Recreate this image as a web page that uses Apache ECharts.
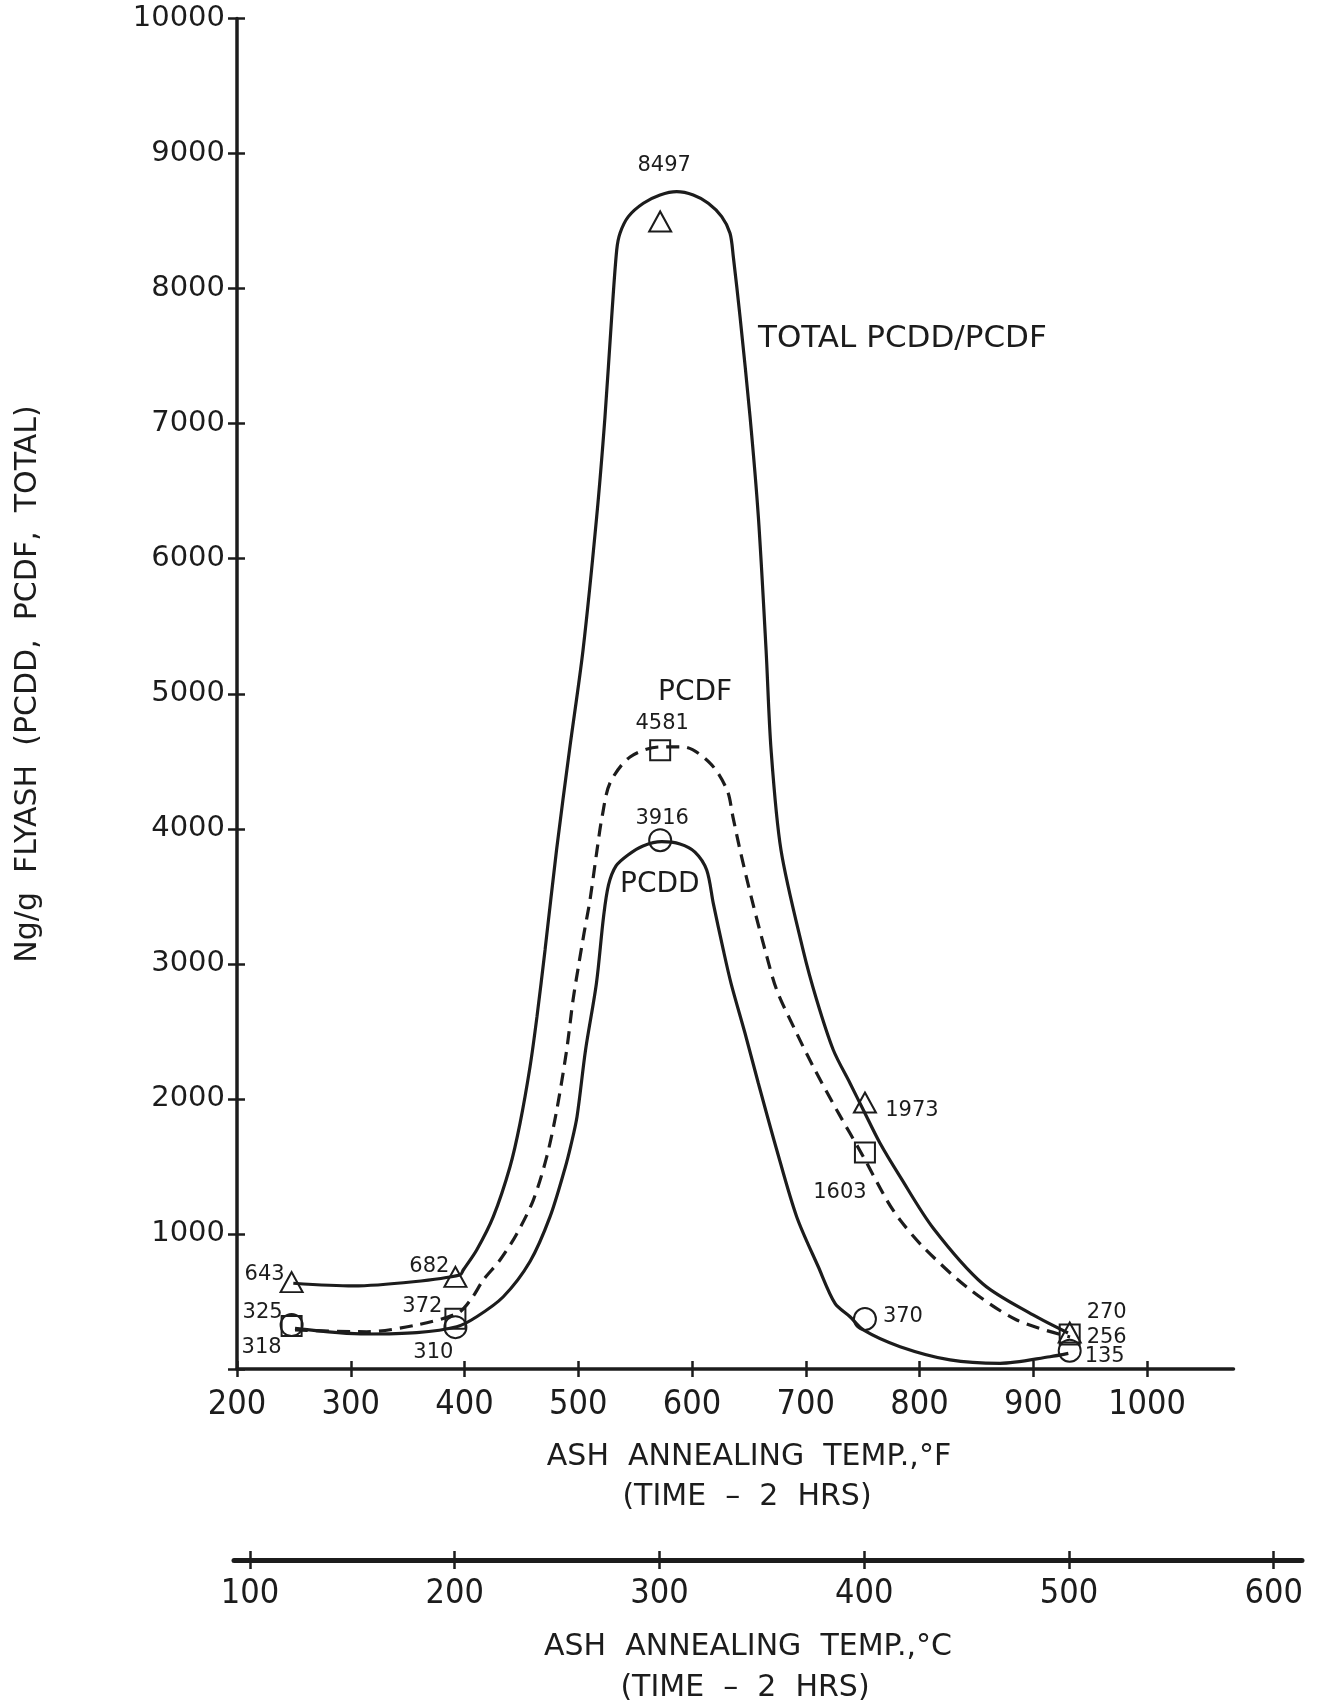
<!DOCTYPE html>
<html><head><meta charset="utf-8">
<script src="https://cdn.jsdelivr.net/npm/echarts@6/dist/echarts.min.js"></script>
<style>html,body{margin:0;padding:0;background:#fff}#c{width:1322px;height:1708px}</style>
</head><body><div id="c"></div>
<script>
// Measured points (temperature in °F, value in ng/g)
const tempF = [248, 392, 572, 752, 932];
const totalVals = [643, 682, 8497, 1973, 270];
const pcdfVals = [318, 372, 4581, 1603, 256];
const pcddVals = [325, 310, 3916, 370, 135];

// Tick labels
const fTicks = [200, 300, 400, 500, 600, 700, 800, 900, 1000];
const cTicks = [100, 200, 300, 400, 500, 600];

// Hand-drawn curves [°F, ng/g]
const totalCurve = [[249.5,635],[302.2,615],[355,646],[396,696],[398.9,733],[410.7,881],[425.3,1128],[440,1498],[448.8,1819],[457.6,2238],[463.7,2609],[470.8,3103],[480.9,3843],[492.3,4584],[504.2,5324],[516.2,6311],[523.5,7052],[529.4,7792],[533.8,8286],[536.7,8410],[544,8533],[557.2,8632],[571.9,8693],[586.5,8718],[601.1,8693],[614.3,8632],[626.1,8533],[633.4,8410],[636.3,8236],[642.2,7792],[651,7052],[658.3,6311],[665.1,5324],[669.5,4584],[678.2,3843],[697.6,3103],[709.6,2732],[724.2,2362],[738.9,2116],[750.6,1918],[765.3,1671],[782.9,1424],[811.9,1044],[855.8,629],[899.8,400],[930.5,267]];
const pcdfCurve = [[251,289],[314,276],[358,326],[394.3,415],[406.6,526],[416.5,659],[431.2,807],[445.9,1000],[460.5,1251],[472.3,1572],[481.1,1918],[489.8,2362],[495.4,2732],[500.2,2984],[505.1,3228],[510.3,3473],[516.5,3843],[520.9,4087],[527.9,4339],[545.5,4532],[571.9,4606],[592.1,4606],[615.8,4487],[630.8,4287],[636,4087],[642.2,3843],[652.7,3473],[664.2,3103],[674.5,2806],[692,2486],[706.6,2238],[727.2,1918],[750.6,1572],[771.2,1251],[782.9,1103],[803.3,903],[841.5,607],[885.4,363],[932.3,237]];
const pcddCurve = [[251,301],[314,259],[358,269],[393.1,313],[410.7,387],[434.1,535],[457.6,796],[475.2,1128],[488.4,1488],[493.6,1659],[498.9,1868],[506.4,2362],[516,2858],[522.2,3347],[526.6,3584],[533.2,3725],[543.7,3806],[556.9,3873],[573.4,3905],[589.4,3888],[602.6,3828],[612.9,3695],[618.7,3448],[627.5,3103],[634.3,2856],[646.6,2486],[658.3,2116],[674.5,1622],[692,1128],[711,757],[725.7,486],[738.9,387],[750.6,289],[782.9,165],[826.8,67],[870.8,42],[914.7,91],[930.8,116]];

// Label placement offsets (layout only)
const totalLabelOff = [[-27,-8],[-26,-10],[4,-56],[47,8],[37,-20]];
const pcdfLabelOff = [[-30,21],[-33,-12],[2,-27],[-25,40],[37,3]];
const pcddLabelOff = [[-29,-13],[-22,25],[2,-22],[38,-2],[35,6]];

const INK = '#1c1c1c';
const chart = echarts.init(document.getElementById('c'), null, {renderer: 'canvas'});

function pts(vals, offs) {
  return tempF.map((t, i) => ({
    value: [t, vals[i]],
    label: {offset: offs[i]}
  }));
}
function markerSeries(name, symbol, size, vals, offs) {
  return {
    name, type: 'scatter', xAxisIndex: 0, yAxisIndex: 0, z: 5,
    symbol, symbolSize: size,
    itemStyle: {color: 'rgba(0,0,0,0)', borderColor: INK, borderWidth: 2, opacity: 1},
    label: {show: true, position: 'inside', align: 'center', verticalAlign: 'middle',
      color: INK, fontFamily: 'DejaVu Sans', fontSize: 21,
      formatter: p => String(p.value[1])},
    emphasis: {disabled: true},
    data: pts(vals, offs)
  };
}
function curveSeries(name, data, dashed) {
  return {
    name, type: 'line', xAxisIndex: 0, yAxisIndex: 0, z: 3,
    data, smooth: 0.3, showSymbol: false, symbol: 'none',
    lineStyle: {color: INK, width: 3.2, type: dashed ? [13, 8] : 'solid', cap: 'butt'},
    emphasis: {disabled: true}
  };
}

const tickStyle = {color: INK, width: 2.5};
const fMin = 200, fMax = 1076;
const cMin = 92.2, cMax = 613.8;
const narrow = 'Liberation Sans Narrow, DejaVu Sans Condensed, sans-serif';
const titleFont = '30px "DejaVu Sans", sans-serif';

const option = {
  animation: false,
  backgroundColor: '#ffffff',
  grid: [
    {left: 237, top: 18.5, width: 996.5, height: 1350.5, containLabel: false},
    {left: 234, top: 1559, width: 1068, height: 1, containLabel: false}
  ],
  xAxis: [
    {type: 'value', gridIndex: 0, min: fMin, max: fMax, position: 'bottom',
      axisLine: {show: true, onZero: false, lineStyle: {color: INK, width: 3.5}},
      axisTick: {show: true, inside: false, length: 8, lineStyle: tickStyle, customValues: fTicks},
      axisLabel: {show: true, margin: 19, color: INK, fontFamily: narrow, fontSize: 34, customValues: fTicks, formatter: v => String(v)},
      splitLine: {show: false}},
    {type: 'value', gridIndex: 0, min: fMin, max: fMax, position: 'bottom',
      axisLine: {show: false, onZero: false},
      axisTick: {show: true, inside: true, length: 8, lineStyle: tickStyle, customValues: fTicks},
      axisLabel: {show: false}, splitLine: {show: false}},
    {type: 'value', gridIndex: 1, min: cMin, max: cMax, position: 'bottom',
      axisLine: {show: true, onZero: false, lineStyle: {color: INK, width: 5}},
      axisTick: {show: true, inside: false, length: 9, lineStyle: tickStyle, customValues: cTicks},
      axisLabel: {show: true, margin: 17, color: INK, fontFamily: narrow, fontSize: 34, customValues: cTicks, formatter: v => String(v)},
      splitLine: {show: false}},
    {type: 'value', gridIndex: 1, min: cMin, max: cMax, position: 'bottom',
      axisLine: {show: false, onZero: false},
      axisTick: {show: true, inside: true, length: 9, lineStyle: tickStyle, customValues: cTicks},
      axisLabel: {show: false}, splitLine: {show: false}}
  ],
  yAxis: [
    {type: 'value', gridIndex: 0, min: 0, max: 10000, interval: 1000, position: 'left',
      axisLine: {show: true, onZero: false, lineStyle: {color: INK, width: 3.5}},
      axisTick: {show: true, inside: false, length: 9, lineStyle: tickStyle},
      axisLabel: {show: true, margin: 12, color: INK, fontFamily: 'DejaVu Sans', fontSize: 29,
        formatter: v => v === 0 ? '' : String(v)},
      splitLine: {show: false}},
    {type: 'value', gridIndex: 0, min: 0, max: 10000, interval: 1000, position: 'left',
      axisLine: {show: false, onZero: false},
      axisTick: {show: true, inside: true, length: 8, lineStyle: tickStyle},
      axisLabel: {show: false}, splitLine: {show: false}},
    {type: 'value', gridIndex: 1, show: false, min: 0, max: 1}
  ],
  series: [
    curveSeries('TOTAL PCDD/PCDF', totalCurve, false),
    curveSeries('PCDF', pcdfCurve, true),
    curveSeries('PCDD', pcddCurve, false),
    markerSeries('TOTAL', 'triangle', [22, 20], totalVals, totalLabelOff),
    markerSeries('PCDF pts', 'rect', [20, 20], pcdfVals, pcdfLabelOff),
    markerSeries('PCDD pts', 'circle', 22, pcddVals, pcddLabelOff)
  ],
  graphic: [
    {type: 'text', x: 28, y: 684, rotation: Math.PI / 2,
      style: {text: 'Ng/g  FLYASH  (PCDD,  PCDF,  TOTAL)', fill: INK, font: titleFont, textAlign: 'center', textVerticalAlign: 'middle'}},
    {type: 'text', x: 749, y: 1457,
      style: {text: 'ASH  ANNEALING  TEMP.,°F', fill: INK, font: titleFont, textAlign: 'center', textVerticalAlign: 'middle'}},
    {type: 'text', x: 747, y: 1497,
      style: {text: '(TIME  –  2  HRS)', fill: INK, font: titleFont, textAlign: 'center', textVerticalAlign: 'middle'}},
    {type: 'text', x: 748, y: 1647,
      style: {text: 'ASH  ANNEALING  TEMP.,°C', fill: INK, font: titleFont, textAlign: 'center', textVerticalAlign: 'middle'}},
    {type: 'text', x: 745, y: 1688,
      style: {text: '(TIME  –  2  HRS)', fill: INK, font: titleFont, textAlign: 'center', textVerticalAlign: 'middle'}},
    {type: 'text', x: 758, y: 339,
      style: {text: 'TOTAL PCDD/PCDF', fill: INK, font: '31px "DejaVu Sans", sans-serif', textAlign: 'left', textVerticalAlign: 'middle'}},
    {type: 'text', x: 658, y: 693,
      style: {text: 'PCDF', fill: INK, font: '28px "DejaVu Sans", sans-serif', textAlign: 'left', textVerticalAlign: 'middle'}},
    {type: 'text', x: 620, y: 885,
      style: {text: 'PCDD', fill: INK, font: '28px "DejaVu Sans", sans-serif', textAlign: 'left', textVerticalAlign: 'middle'}}
  ]
};
chart.setOption(option);
</script></body></html>
